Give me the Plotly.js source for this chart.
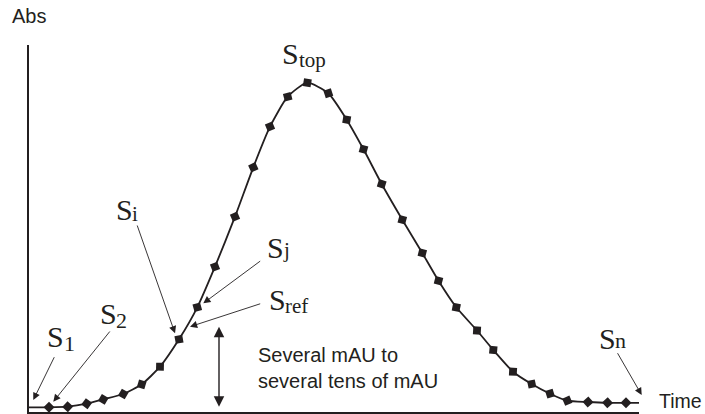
<!DOCTYPE html>
<html>
<head>
<meta charset="utf-8">
<script src="https://cdn.plot.ly/plotly-3.0.1.min.js"></script>
<style>html,body{margin:0;padding:0;background:#fff;}#chart{width:705px;height:414px;}</style>
</head>
<body>
<div id="chart"></div>
<script>
// Sampled chromatogram points (time, absorbance) in arbitrary units
const time = [0, 20, 38.7, 57.7, 74.3, 94.3, 112.7, 131, 150, 168.3, 186, 206, 224.3, 241, 258.7, 278.3,
              299.3, 317.7, 334.5, 352.7, 373.3, 393.3, 409.5, 427.3, 448, 464.3, 484, 502.7, 521, 538.3,
              559, 578.5, 597, 612.7];
const absorb = [4.7, 4.7, 5.3, 8.3, 12.7, 18, 27.7, 45.3, 72.7, 104.7, 145.3, 195.3, 244.7, 285.3, 315.3, 329.3,
                318.7, 292.3, 262.7, 228, 192.3, 159, 131.3, 104.7, 81.5, 62, 40.3, 28, 18.3, 11.3,
                10, 9.2, 9.2, 9];
const axisTitles = ["Abs", "Time"];
const rangeNote = "Several mAU to<br>several tens of mAU";
const pointLabels = [
  {main: "S", sub: "top"}, {main: "S", sub: "i"}, {main: "S", sub: "j"}, {main: "S", sub: "ref"},
  {main: "S", sub: "1"}, {main: "S", sub: "2"}, {main: "S", sub: "n"}
];

const INK = "#231f20";
const L = 29, R = 639, T = 45, B = 412;
const W = R - L, H = B - T;
const fx = px => (px - L) / W;
const fy = py => (B - py) / H;

const SERIF = "Liberation Serif, Times New Roman, serif";
const SANS = "Liberation Sans, Arial, sans-serif";

function textAt(text, left, base, size, family, extra) {
  const asc = family === SERIF ? 0.891 : 0.905;
  const desc = family === SERIF ? 0.216 : 0.212;
  const centre = base - (asc - desc) / 2 * size;
  return Object.assign({
    xref: "paper", yref: "paper", x: fx(left - 2), y: fy(centre),
    xanchor: "left", yanchor: "middle", text: text, showarrow: false,
    font: {family: family, size: size, color: INK}
  }, extra || {});
}
function arrow(tail, head, opts) {
  return Object.assign({
    xref: "paper", yref: "paper", x: fx(head[0]), y: fy(head[1]),
    ax: tail[0] - head[0], ay: tail[1] - head[1], axref: "pixel", ayref: "pixel",
    text: "", showarrow: true, arrowhead: 2, arrowsize: 1.6, arrowwidth: 0.9,
    arrowcolor: INK, standoff: 0, startstandoff: 0
  }, opts || {});
}

// label positions: [S left, S baseline, sub baseline, sub size]
const S_SIZE = 30;
const labelPos = [
  [282, 63.3, 67, 21],
  [115.5, 219.3, 221.5, 21],
  [266.5, 258, 257.5, 21],
  [268.5, 309.3, 312.7, 21],
  [47, 346.7, 350.7, 22],
  [99.5, 324, 328.3, 22],
  [598.5, 349, 347.5, 22]
];

const annotations = [];
pointLabels.forEach((lb, k) => {
  const p = labelPos[k];
  annotations.push(textAt(lb.main, p[0], p[1], S_SIZE, SERIF));
  annotations.push(textAt(lb.sub, p[0] + 0.556 * S_SIZE, p[2], p[3], SERIF));
});
annotations.push(textAt(axisTitles[0], 11.7, 23.3, 20, SANS));
annotations.push(textAt(axisTitles[1], 659.3, 407.3, 19.5, SANS));
annotations.push(Object.assign(textAt(rangeNote, 258.3, 362.3, 20, SANS), {
  align: "left", y: fy((362.3 - 0.905 * 20 + 388.3 + 0.212 * 20) / 2)
}));

// arrows: tail -> head (pixels)
annotations.push(arrow([55, 355.7], [33.3, 400]));
annotations.push(arrow([111, 330], [53.3, 401.7]));
annotations.push(arrow([136.7, 224], [175, 333.3]));
annotations.push(arrow([261.7, 260], [203.3, 303.3]));
annotations.push(arrow([261.7, 303.3], [190, 326.7]));
annotations.push(arrow([616.7, 351.7], [641.7, 395]));
annotations.push(arrow([219, 408.3], [219, 326.7], {arrowside: "end+start", arrowwidth: 1.4, arrowsize: 1.5}));

const trace = {
  x: time, y: absorb, type: "scatter", mode: "lines+markers", cliponaxis: false,
  line: {color: INK, width: 1.8, shape: "spline", smoothing: 0.6},
  marker: {symbol: "diamond", size: 8.5, color: INK, angleref: "previous"},
  hoverinfo: "none", showlegend: false
};

const axisBase = {
  showgrid: false, zeroline: false, showticklabels: false, ticks: "",
  showline: true, linecolor: INK, linewidth: 2.5, fixedrange: true
};

Plotly.newPlot("chart", [trace], {
  width: 705, height: 414,
  margin: {l: L, r: 705 - R, t: T, b: 414 - B, pad: 0},
  paper_bgcolor: "#fff", plot_bgcolor: "#fff",
  xaxis: Object.assign({range: [0, W]}, axisBase),
  yaxis: Object.assign({range: [0, H]}, axisBase),
  annotations: annotations,
  showlegend: false
}, {staticPlot: true, displayModeBar: false});
</script>
</body>
</html>
